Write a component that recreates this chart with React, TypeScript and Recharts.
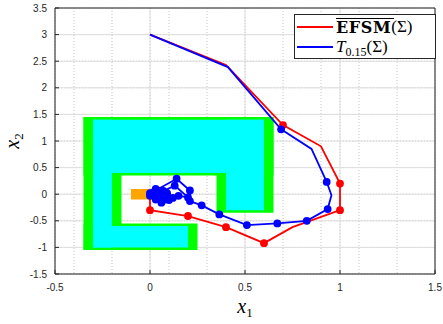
import {
  LineChart,
  Line,
  XAxis,
  YAxis,
  CartesianGrid,
  ReferenceArea,
  Legend,
} from "recharts";

// axis ticks
const xTicks = [-0.5, 0, 0.5, 1, 1.5];
const yTicks = [-1.5, -1, -0.5, 0, 0.5, 1, 1.5, 2, 2.5, 3, 3.5];
const minorXTicks = [
  -0.5, -0.4, -0.3, -0.2, -0.1, 0, 0.1, 0.2, 0.3, 0.4, 0.5, 0.6, 0.7, 0.8, 0.9, 1, 1.1, 1.2,
  1.3, 1.4, 1.5,
];
const minorYTicks = [
  -1.5, -1.4, -1.3, -1.2, -1.1, -1, -0.9, -0.8, -0.7, -0.6, -0.5, -0.4, -0.3, -0.2, -0.1, 0,
  0.1, 0.2, 0.3, 0.4, 0.5, 0.6, 0.7, 0.8, 0.9, 1, 1.1, 1.2, 1.3, 1.4, 1.5, 1.6, 1.7, 1.8, 1.9,
  2, 2.1, 2.2, 2.3, 2.4, 2.5, 2.6, 2.7, 2.8, 2.9, 3, 3.1, 3.2, 3.3, 3.4, 3.5,
];

// EFSM trajectory
const redX = [0, 0.4, 0.7, 0.9, 1.0, 1.0, 0.75, 0.6, 0.4, 0.2, 0.0, 0.0];
const redY = [3.0, 2.43, 1.3, 0.9, 0.2, -0.3, -0.62, -0.92, -0.62, -0.41, -0.3, -0.05];
const redMarked = [2, 4, 5, 7, 8, 9, 10];

// T_0.15 trajectory
const blueX = [
  0, 0.41, 0.69, 0.85, 0.93, 0.955, 0.935, 0.825, 0.67, 0.51, 0.365, 0.272, 0.21, 0.21, 0.14,
  0.06, 0.03, 0.0, 0.03, 0.06, 0.1, 0.15, 0.2, 0.13, 0.07, 0.02, 0.05, 0.09, 0.12, 0.08, 0.04,
  0.0, 0.02,
];
const blueY = [
  3.0, 2.39, 1.22, 0.85, 0.23, -0.02, -0.28, -0.5, -0.55, -0.58, -0.38, -0.21, -0.13, 0.07,
  0.29, 0.13, 0.1, 0.02, -0.1, -0.16, -0.11, -0.03, -0.06, 0.16, 0.06, 0.04, -0.04, 0.02,
  -0.07, -0.1, 0.05, -0.03, 0.0,
];
const blueMarked = [
  2, 4, 6, 7, 8, 9, 10, 11, 12, 13, 14, 16, 17, 18, 19, 20, 21, 22, 23, 24, 25, 26, 27, 28, 29,
  30, 31, 32,
];

// obstacle (green band) and safe set (cyan)
const greenRects = [
  { x1: -0.35, x2: -0.15, y1: -1.05, y2: 1.45 },
  { x1: -0.35, x2: 0.65, y1: 0.35, y2: 1.45 },
  { x1: 0.35, x2: 0.65, y1: -0.35, y2: 1.45 },
  { x1: -0.35, x2: 0.25, y1: -1.05, y2: -0.55 },
];
const cyanRects = [
  { x1: -0.3, x2: -0.2, y1: -1.0, y2: 1.4 },
  { x1: -0.3, x2: 0.6, y1: 0.4, y2: 1.4 },
  { x1: 0.4, x2: 0.6, y1: -0.3, y2: 1.4 },
  { x1: -0.3, x2: 0.2, y1: -1.0, y2: -0.6 },
];
// target
const targetRect = { x1: -0.1, x2: 0.1, y1: -0.1, y2: 0.1 };

const redData = redX.map((x, i) => ({ x, y: redY[i] }));
const blueData = blueX.map((x, i) => ({ x, y: blueY[i] }));

const axisColor = "#262626";
const tickStyle = { fontSize: 10, fill: axisColor, fontFamily: "'Liberation Sans', Arial, sans-serif" };
const mathFont = "'Liberation Serif', 'Times New Roman', serif";

const makeDot = (marked: number[], color: string) => (props: any) => {
  const { cx, cy, index } = props;
  if (!marked.includes(index)) return <g key={`d${index}`} />;
  return <circle key={`d${index}`} cx={cx} cy={cy} r={3.9} fill={color} stroke="none" />;
};

const XLabel = (props: any) => {
  const vb = props.viewBox || { x: 55, y: 274, width: 380 };
  return (
    <text x={vb.x + vb.width / 2} y={vb.y + 39} textAnchor="middle" fontFamily={mathFont} fontSize={20} fill="#000">
      <tspan fontStyle="italic">x</tspan>
      <tspan fontSize={13} dy={4}>1</tspan>
    </text>
  );
};

const YLabel = (props: any) => {
  const vb = props.viewBox || { x: 0, y: 8, height: 266 };
  const cx = 19;
  const cy = vb.y + vb.height / 2;
  return (
    <text
      x={cx}
      y={cy}
      textAnchor="middle"
      fontFamily={mathFont}
      fontSize={20}
      fill="#000"
      transform={`rotate(-90, ${cx}, ${cy})`}
    >
      <tspan fontStyle="italic">x</tspan>
      <tspan fontSize={13} dy={4}>2</tspan>
    </text>
  );
};

const renderLegend = () => (
  <div
    style={{
      position: "relative",
      width: 142,
      height: 45,
      boxSizing: "border-box",
      border: "1px solid #262626",
      background: "#fff",
      fontFamily: mathFont,
      color: "#000",
      paddingTop: 2,
    }}
  >
    <div style={{ display: "flex", alignItems: "center", height: 20 }}>
      <div style={{ width: 36, height: 1.5, background: "#ff0000", marginLeft: 2, marginRight: 3 }} />
      <span
        style={{
          fontWeight: "bold",
          fontFamily: "'DejaVu Serif', serif",
          fontSize: 16,
          letterSpacing: 0.6,
          whiteSpace: "nowrap",
        }}
      >
        EFSM
      </span>
      <span style={{ fontSize: 17, whiteSpace: "nowrap" }}>(Σ)</span>
    </div>
    {/* overline on EFSM */}
    <div style={{ position: "absolute", left: 41, top: 3, width: 58, height: 1.3, background: "#000" }} />
    <div style={{ display: "flex", alignItems: "center", height: 20 }}>
      <div style={{ width: 36, height: 1.5, background: "#0000ff", marginLeft: 2, marginRight: 3 }} />
      <span style={{ fontSize: 17, whiteSpace: "nowrap" }}>
        <span style={{ fontStyle: "italic" }}>T</span>
        <span style={{ fontSize: 12, position: "relative", top: 4 }}>0.15</span>
        (Σ)
      </span>
    </div>
  </div>
);

export default function App() {
  return (
    <div style={{ position: "absolute", left: 0, top: 0, width: 443, height: 324, background: "#fff" }}>
      <LineChart width={443} height={324} margin={{ top: 7, right: 7, bottom: 0, left: 0 }}>
        <XAxis xAxisId="minor" type="number" dataKey="x" domain={[-0.5, 1.5]} ticks={minorXTicks} allowDataOverflow hide />
        <YAxis yAxisId="minor" type="number" domain={[-1.5, 3.5]} ticks={minorYTicks} allowDataOverflow hide />
        <CartesianGrid xAxisId="minor" yAxisId="minor" stroke="#c4c4c4" strokeDasharray="1 2" />
        <CartesianGrid stroke="#dedede" />
        <XAxis
          type="number"
          dataKey="x"
          domain={[-0.5, 1.5]}
          ticks={xTicks}
          allowDataOverflow
          height={50}
          tickSize={-4}
          tickMargin={14}
          tick={tickStyle}
          stroke={axisColor}
          label={<XLabel />}
        />
        <YAxis
          type="number"
          domain={[-1.5, 3.5]}
          ticks={yTicks}
          allowDataOverflow
          width={55}
          tickSize={-4}
          tickMargin={12}
          tick={tickStyle}
          stroke={axisColor}
          label={<YLabel />}
        />
        <XAxis
          xAxisId="top"
          orientation="top"
          type="number"
          domain={[-0.5, 1.5]}
          ticks={xTicks}
          allowDataOverflow
          height={1}
          tickSize={-4}
          tick={false}
          stroke={axisColor}
        />
        <YAxis
          yAxisId="right"
          orientation="right"
          type="number"
          domain={[-1.5, 3.5]}
          ticks={yTicks}
          allowDataOverflow
          width={1}
          tickSize={-4}
          tick={false}
          stroke={axisColor}
        />
        {greenRects.map((r, i) => (
          <ReferenceArea key={`g${i}`} {...r} fill="#00ff00" fillOpacity={1} stroke="none" />
        ))}
        {cyanRects.map((r, i) => (
          <ReferenceArea key={`c${i}`} {...r} fill="#00ffff" fillOpacity={1} stroke="none" />
        ))}
        <ReferenceArea {...targetRect} fill="#ffa500" fillOpacity={1} stroke="none" />
        <Line
          data={redData}
          dataKey="y"
          stroke="#ff0000"
          strokeWidth={1.8}
          dot={makeDot(redMarked, "#ff0000")}
          activeDot={false}
          isAnimationActive={false}
          name="EFSM"
        />
        <Line
          data={blueData}
          dataKey="y"
          stroke="#0000ff"
          strokeWidth={1.8}
          dot={makeDot(blueMarked, "#0000ff")}
          activeDot={false}
          isAnimationActive={false}
          name="T"
        />
        <Legend
          layout="horizontal"
          verticalAlign="middle"
          align="center"
          content={renderLegend}
          wrapperStyle={{ left: 294, top: 14, width: 142, height: 45 }}
        />
      </LineChart>
    </div>
  );
}
